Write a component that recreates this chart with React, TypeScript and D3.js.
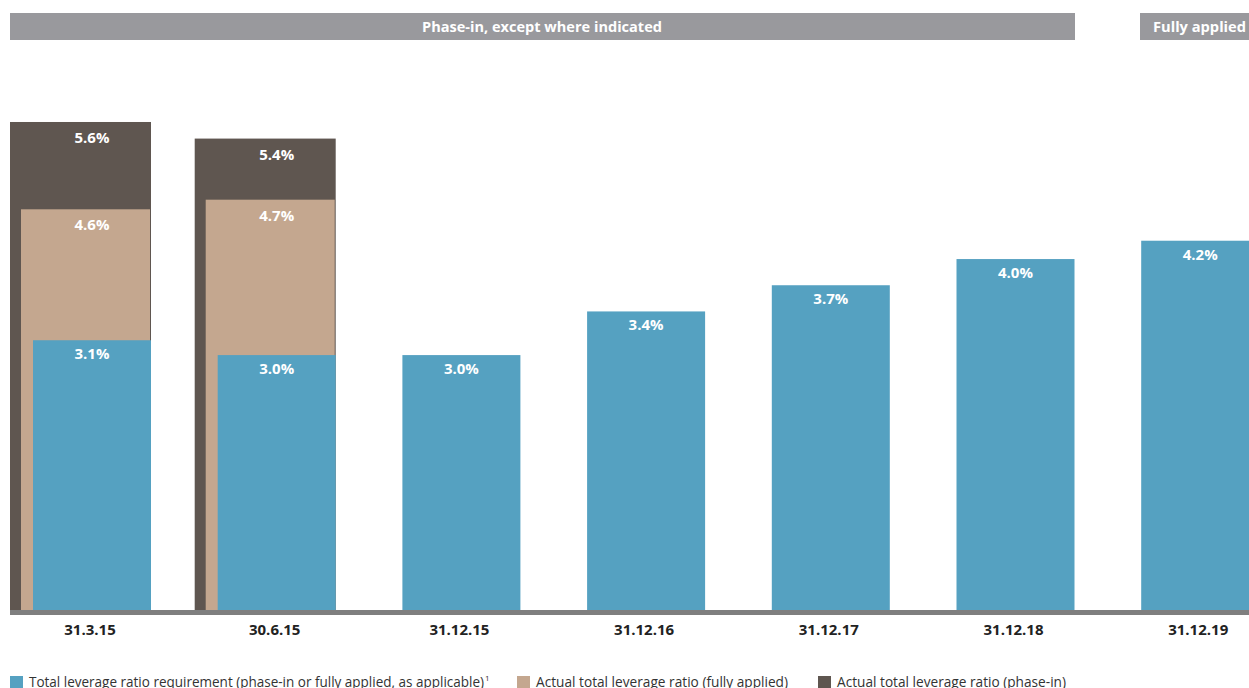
import * as d3 from "d3";

// chart data
const categories = ["31.3.15", "30.6.15", "31.12.15", "31.12.16", "31.12.17", "31.12.18", "31.12.19"];
const requirement = [3.09, 2.92, 2.92, 3.42, 3.72, 4.02, 4.23];
const fullyApplied: (number | null)[] = [4.59, 4.7, null, null, null, null, null];
const phaseIn: (number | null)[] = [5.59, 5.4, null, null, null, null, null];
const requirementLabels = ["3.1%", "3.0%", "3.0%", "3.4%", "3.7%", "4.0%", "4.2%"];
const fullyAppliedLabels = ["4.6%", "4.7%", "", "", "", "", ""];
const phaseInLabels = ["5.6%", "5.4%", "", "", "", "", ""];
const legendLabels = [
    "Total leverage ratio requirement (phase-in or fully applied, as applicable)",
    "Actual total leverage ratio (fully applied)",
    "Actual total leverage ratio (phase-in)",
];

const W = 1249;
const H = 688;
const FONT = "'Open Sans', 'Noto Sans', sans-serif";
const BLUE = "#55a1c1";
const TAN = "#c4a78f";
const DARK = "#5f5650";
const GREY = "#99999d";

export default function App() {
    const baseY = 610;
    const x = d3
        .scaleBand<string>()
        .domain(categories)
        .range([10, 1259.2])
        .paddingInner(0.2366)
        .paddingOuter(0);
    const bw = x.bandwidth();
    const y = d3.scaleLinear().domain([0, 5.6]).range([baseY, baseY - 5.6 * 87.3]);

    const blueX = (c: string) => x(c)! + 23;
    const blueW = bw - 23;
    const labelX = (c: string) => blueX(c) + blueW / 2;

    // legend layout (narrow Frutiger-like font in the original)
    const legendX = [10, 517, 818];
    const legendWidths = [455, 252, 229];
    const legendColors = [BLUE, TAN, DARK];

    return (
        <div style={{ position: "absolute", left: 0, top: 0 }}>
            <svg width={W} height={H} style={{ display: "block", fontFamily: FONT }}>
                {/* header bands */}
                <rect x={10} y={13} width={1065} height={27} fill={GREY} />
                <text
                    x={542}
                    y={32}
                    textAnchor="middle"
                    fill="#fff"
                    fontWeight="bold"
                    fontSize={15}
                    textLength={240}
                    lengthAdjust="spacingAndGlyphs"
                >
                    Phase-in, except where indicated
                </text>
                <rect x={1140} y={13} width={W - 1140} height={27} fill={GREY} />
                <text x={1153} y={32} fill="#fff" fontWeight="bold" fontSize={15} textLength={93} lengthAdjust="spacingAndGlyphs">
                    Fully applied
                </text>

                {/* bars */}
                {categories.map((c, i) => (
                    <g key={c}>
                        {phaseIn[i] != null && (
                            <rect x={x(c)} y={y(phaseIn[i]!)} width={bw} height={baseY - y(phaseIn[i]!)} fill={DARK} />
                        )}
                        {fullyApplied[i] != null && (
                            <rect
                                x={x(c)! + 11}
                                y={y(fullyApplied[i]!)}
                                width={bw - 12}
                                height={baseY - y(fullyApplied[i]!)}
                                fill={TAN}
                            />
                        )}
                        <rect x={blueX(c)} y={y(requirement[i])} width={blueW} height={baseY - y(requirement[i])} fill={BLUE} />
                    </g>
                ))}

                {/* value labels */}
                {categories.map((c, i) => (
                    <g key={"l" + c} fill="#fff" fontWeight="bold" fontSize={15} textAnchor="middle">
                        {phaseIn[i] != null && (
                            <text x={labelX(c)} y={y(phaseIn[i]!) + 21}>{phaseInLabels[i]}</text>
                        )}
                        {fullyApplied[i] != null && (
                            <text x={labelX(c)} y={y(fullyApplied[i]!) + 21}>{fullyAppliedLabels[i]}</text>
                        )}
                        <text x={labelX(c)} y={y(requirement[i]) + 19}>{requirementLabels[i]}</text>
                    </g>
                ))}

                {/* baseline */}
                <rect x={10} y={baseY} width={W - 10} height={5} fill="#7f7f7f" />

                {/* category axis */}
                {categories.map((c) => (
                    <text key={"c" + c} x={labelX(c) - 2} y={635} textAnchor="middle" fontWeight="bold" fontSize={15} fill="#222">
                        {c}
                    </text>
                ))}

                {/* legend */}
                {legendLabels.map((l, i) => (
                    <g key={l}>
                        <rect x={legendX[i]} y={676} width={13} height={13} fill={legendColors[i]} />
                        <text
                            x={legendX[i] + 19}
                            y={687}
                            fontSize={15}
                            fill="#333"
                            textLength={legendWidths[i]}
                            lengthAdjust="spacingAndGlyphs"
                        >
                            {l}
                        </text>
                        {i === 0 && (
                            <text x={legendX[i] + 19 + legendWidths[i] + 1} y={681} fontSize={8} fill="#333">
                                1
                            </text>
                        )}
                    </g>
                ))}
            </svg>
        </div>
    );
}
